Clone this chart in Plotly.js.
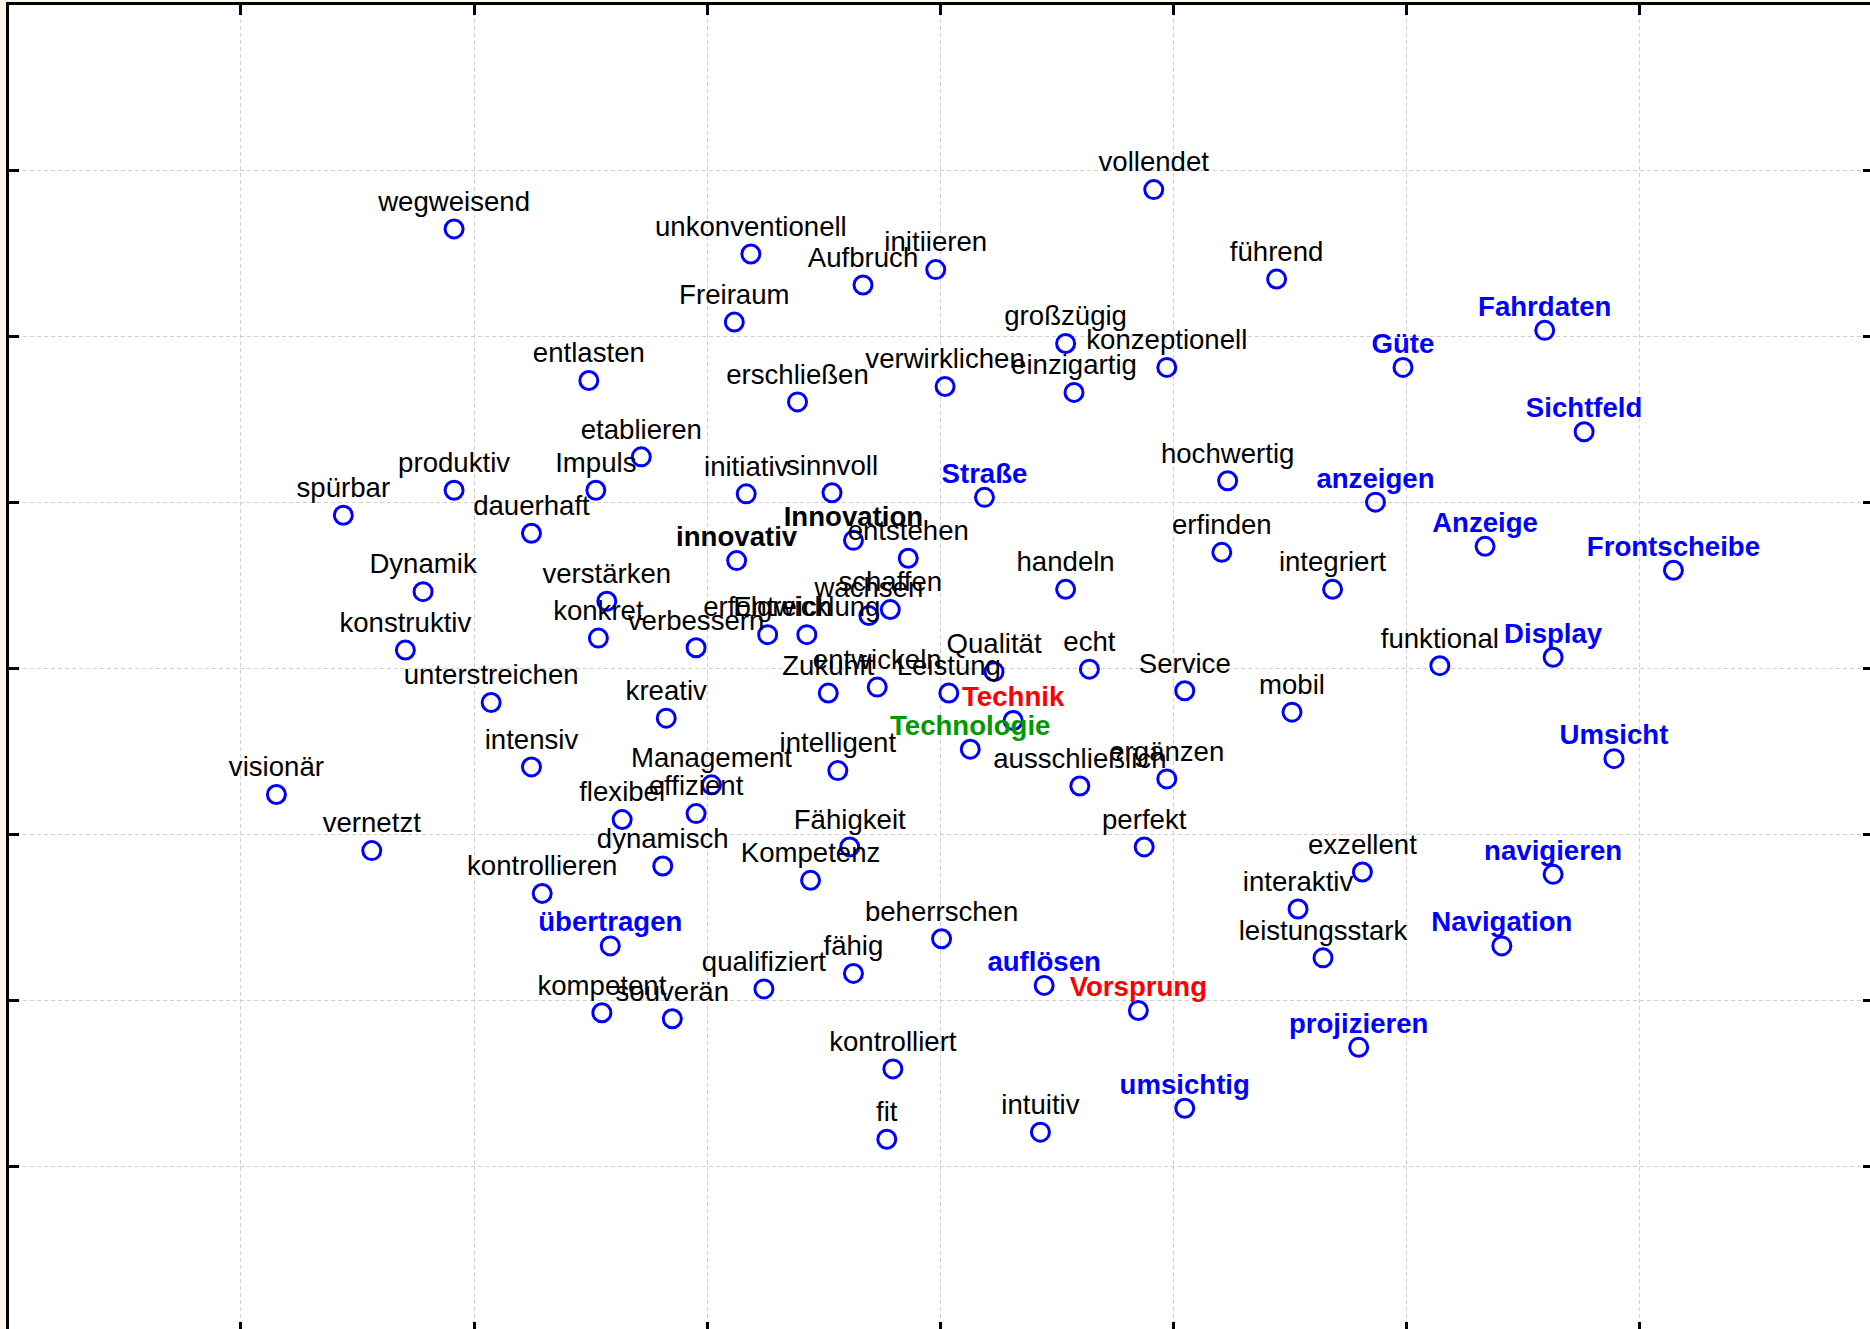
<!DOCTYPE html>
<html>
<head>
<meta charset="utf-8">
<script src="https://cdn.plot.ly/plotly-3.0.1.min.js"></script>
<style>
html, body { margin: 0; padding: 0; overflow: hidden; background: #fff8e8; }
#chart { width: 1876px; height: 1334px; }
</style>
</head>
<body>
<div id="chart"></div>
<script>
// Word labels of the map
const words = [
  "vollendet","wegweisend","unkonventionell","Aufbruch","initiieren","führend","Fahrdaten","Freiraum","großzügig","konzeptionell",
  "Güte","entlasten","erschließen","verwirklichen","einzigartig","Sichtfeld","etablieren","produktiv","Impuls","initiativ",
  "sinnvoll","Straße","hochwertig","anzeigen","spürbar","dauerhaft","Innovation","innovativ","entstehen","erfinden",
  "Anzeige","Frontscheibe","Dynamik","handeln","integriert","verstärken","konkret","verbessern","erfolgreich","Entwicklung",
  "wachsen","schaffen","konstruktiv","Qualität","echt","Service","funktional","Display","unterstreichen","kreativ",
  "Zukunft","entwickeln","Leistung","Technik","mobil","Umsicht","Technologie","intensiv","Management","intelligent",
  "ausschließlich","ergänzen","visionär","flexibel","effizient","vernetzt","Fähigkeit","perfekt","dynamisch","Kompetenz",
  "exzellent","navigieren","kontrollieren","interaktiv","übertragen","beherrschen","Navigation","leistungsstark","qualifiziert","fähig",
  "auflösen","Vorsprung","kompetent","souverän","projizieren","kontrolliert","umsichtig","fit","intuitiv"
];
// Dimension 1 coordinates
const dim1 = [
  0.915,-2.086,-0.813,-0.332,-0.020,1.442,2.592,-0.884,0.537,0.971,
  1.984,-1.508,-0.613,0.020,0.573,2.761,-1.283,-2.086,-1.478,-0.833,
  -0.465,0.189,1.232,1.866,-2.561,-1.754,-0.373,-0.874,-0.138,1.207,
  2.336,3.144,-2.219,0.537,1.682,-1.431,-1.467,-1.048,-0.741,-0.573,
  -0.307,-0.215,-2.295,0.230,0.639,1.048,2.142,2.628,-1.927,-1.176,
  -0.481,-0.271,0.036,0.312,1.508,2.889,0.128,-1.754,-0.982,-0.440,
  0.598,0.971,-2.848,-1.365,-1.048,-2.439,-0.389,0.874,-1.191,-0.557,
  1.810,2.628,-1.708,1.534,-1.416,0.005,2.408,1.641,-0.757,-0.373,
  0.445,0.849,-1.452,-1.150,1.794,-0.204,1.048,-0.230,0.429
];
// Dimension 2 coordinates
const dim2 = [
  2.882,2.645,2.494,2.307,2.400,2.343,2.034,2.084,1.955,1.811,
  1.811,1.732,1.603,1.696,1.660,1.423,1.272,1.071,1.071,1.049,
  1.056,1.028,1.128,0.999,0.920,0.812,0.769,0.647,0.661,0.697,
  0.733,0.589,0.460,0.474,0.474,0.402,0.180,0.122,0.201,0.201,
  0.316,0.352,0.108,-0.022,-0.007,-0.137,0.014,0.065,-0.208,-0.302,
  -0.151,-0.115,-0.151,-0.316,-0.266,-0.546,-0.489,-0.596,-0.704,-0.618,
  -0.711,-0.668,-0.762,-0.913,-0.877,-1.100,-1.078,-1.078,-1.193,-1.279,
  -1.229,-1.243,-1.358,-1.452,-1.674,-1.631,-1.674,-1.746,-1.933,-1.840,
  -1.912,-2.063,-2.077,-2.113,-2.285,-2.415,-2.652,-2.839,-2.796
];
// Label group of each word: n = plain, b = bold black, u = blue, r = red, g = green
const group = [
  "n","n","n","n","n","n","u","n","n","n",
  "u","n","n","n","n","u","n","n","n","n",
  "n","u","n","u","n","n","b","b","n","n",
  "u","u","n","n","n","n","n","n","n","n",
  "n","n","n","n","n","n","n","u","n","n",
  "n","n","n","r","n","u","g","n","n","n",
  "n","n","n","n","n","n","n","n","n","n",
  "n","u","n","n","u","n","u","n","n","n",
  "u","r","n","n","u","n","u","n","n"
];
const gridVals = [-3,-2,-1,0,1,2,3];

const FONT = "Liberation Sans, Arial, Helvetica, sans-serif";
// text styles per group; "gap" sets how far the label sits above its point
const groupStyle = {
  n: {color: "#000000", weight: "normal", gap: 16.4},
  b: {color: "#000000", weight: "bold", gap: 10.8},
  u: {color: "#0000ff", weight: "bold", gap: 10.8},
  r: {color: "#ff0000", weight: "bold", gap: 10.8},
  g: {color: "#009900", weight: "bold", gap: 10.8}
};

// all points as open blue circles
const traces = [{
  type: "scatter",
  mode: "markers",
  x: dim1,
  y: dim2,
  marker: {symbol: "circle-open", size: 18, color: "#0000ff", line: {width: 3, color: "#0000ff"}},
  cliponaxis: false,
  hoverinfo: "skip",
  showlegend: false
}];

// labels, one trace per text style
["n","b","u","r","g"].forEach(function (key) {
  const idx = group.map(function (g, i) { return g === key ? i : -1; }).filter(function (i) { return i >= 0; });
  traces.push({
    type: "scatter",
    mode: "markers+text",
    x: idx.map(function (i) { return dim1[i]; }),
    y: idx.map(function (i) { return dim2[i]; }),
    text: idx.map(function (i) { return words[i]; }),
    textposition: "top center",
    textfont: {family: FONT, size: 27.6, color: groupStyle[key].color, weight: groupStyle[key].weight},
    marker: {symbol: "circle", size: groupStyle[key].gap, color: "rgba(0,0,0,0)", line: {width: 0}},
    cliponaxis: false,
    hoverinfo: "text",
    showlegend: false
  });
});

const axisCommon = {
  showline: true, linecolor: "#000000", linewidth: 3, mirror: "ticks",
  ticks: "inside", ticklen: 10, tickwidth: 3, tickcolor: "#000000",
  tickmode: "array", tickvals: gridVals, showticklabels: false,
  showgrid: true, gridcolor: "#cfcfcf", gridwidth: 1, griddash: "4px,3px",
  zeroline: false, fixedrange: true
};

const layout = {
  width: 1876, height: 1334,
  margin: {l: 9, r: 3, t: 5, b: 2, pad: 0},
  paper_bgcolor: "#fff8e8",
  plot_bgcolor: "#ffffff",
  xaxis: Object.assign({}, axisCommon, {range: [-3.995, 4.0]}),
  yaxis: Object.assign({}, axisCommon, {range: [-4.0, 3.994]}),
  showlegend: false
};

Plotly.newPlot("chart", traces, layout, {staticPlot: true, displayModeBar: false});
</script>
</body>
</html>
